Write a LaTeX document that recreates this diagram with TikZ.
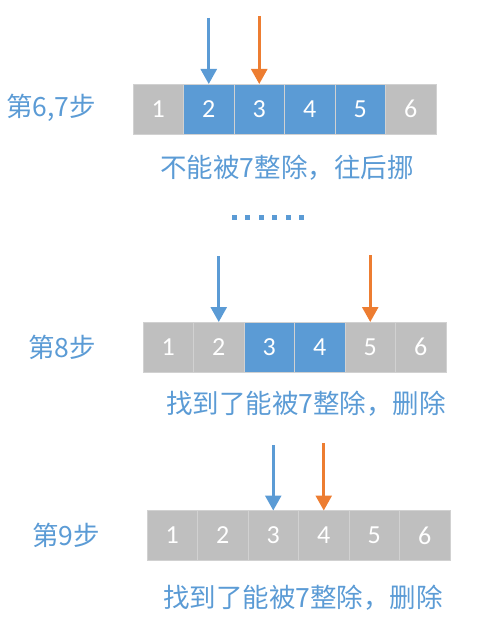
\documentclass[tikz,border=0pt]{standalone}
\usepackage{fontspec}
\setmainfont{Carlito}
\newfontfamily\cjk{Noto Sans CJK SC}
\usetikzlibrary{positioning,arrows.meta}
\definecolor{cellblue}{HTML}{5B9BD5}
\definecolor{cellgray}{HTML}{BFBFBF}
\definecolor{ptrorange}{HTML}{ED7D31}

\tikzset{
  cell/.style={draw=white!82!black, line width=0.8pt, fill=cellgray, outer sep=0pt,
    minimum width=50.5pt, minimum height=50pt, inner sep=0pt,
    text=white, font=\fontsize{26}{26}\selectfont},
  ptr/.style={line width=2.6pt, -{Triangle[width=16pt,length=15pt]}},
  steplabel/.style={text=cellblue, inner sep=0pt, font=\cjk\fontsize{26.5}{26.5}\selectfont},
  note/.style={text=cellblue, inner sep=0pt, font=\cjk\fontsize{26.5}{26.5}\selectfont}
}

\begin{document}
\begin{tikzpicture}[x=1pt,y=-1pt]
\useasboundingbox (0,0) rectangle (478,620);

% step 6,7
\node[steplabel] (s1) at (51,108) {第6,7步};
\node[cell] (a1) at (158.25,109) {1};
\foreach \i/\c [count=\j from 1] in {2/cellblue,3/cellblue,4/cellblue,5/cellblue,6/cellgray}
  \node[cell, fill=\c, right=0pt of a\j] (a\i) {\i};
\coordinate (p1) at (a2.north |- 0,18);
\coordinate (q1) at (a3.north |- 0,16);
\draw[ptr, cellblue] (p1) -- (a2.north);
\draw[ptr, ptrorange] (q1) -- (a3.north);
\node[note] (t1) at (287,168) {不能被7整除，往后挪};

% dots
\foreach \k in {0,...,5}
  \fill[cellblue] (232+\k*13.4,214.5) rectangle ++(5,5);

% step 8
\node[steplabel] (s2) at (62,347) {第8步};
\node[cell] (b1) at (168.25,347) {1};
\foreach \i/\c [count=\j from 1] in {2/cellgray,3/cellblue,4/cellblue,5/cellgray,6/cellgray}
  \node[cell, fill=\c, right=0pt of b\j] (b\i) {\i};
\coordinate (p2) at (b2.north |- 0,256);
\coordinate (q2) at (b5.north |- 0,255);
\draw[ptr, cellblue] (p2) -- (b2.north);
\draw[ptr, ptrorange] (q2) -- (b5.north);
\node[note] (t2) at (306,404) {找到了能被7整除，删除};

% step 9
\node[steplabel] (s3) at (66,535) {第9步};
\node[cell] (c1) at (172.25,535.5) {1};
\foreach \i [count=\j from 1] in {2,...,6}
  \node[cell, right=0pt of c\j] (c\i) {\i};
\coordinate (p3) at (c3.north |- 0,445);
\coordinate (q3) at (c4.north |- 0,443);
\draw[ptr, cellblue] (p3) -- (c3.north);
\draw[ptr, ptrorange] (q3) -- (c4.north);
\node[note] (t3) at (303,598) {找到了能被7整除，删除};
\end{tikzpicture}
\end{document}
